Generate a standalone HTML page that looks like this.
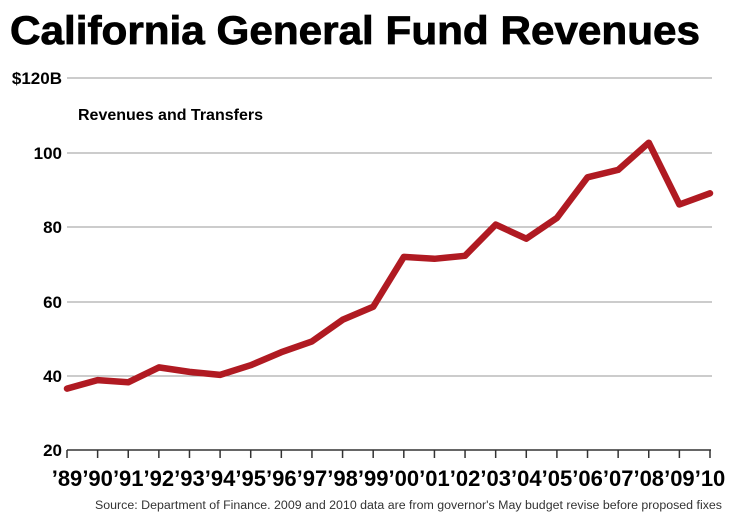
<!DOCTYPE html>
<html><head><style>body{margin:0;background:#fff}svg{display:block}</style></head><body>
<svg width="740" height="529" xmlns="http://www.w3.org/2000/svg" font-family="Liberation Sans, sans-serif">
<text x="10" y="44" font-size="40" font-weight="bold" textLength="690" lengthAdjust="spacingAndGlyphs" stroke="#000" stroke-width="0.8">California General Fund Revenues</text>
<g stroke="#999" stroke-width="1">
<line x1="67" y1="78" x2="712" y2="78"/>
<line x1="67" y1="153" x2="712" y2="153"/>
<line x1="67" y1="227" x2="712" y2="227"/>
<line x1="67" y1="302" x2="712" y2="302"/>
<line x1="67" y1="376" x2="712" y2="376"/>
</g>
<line x1="67" y1="450" x2="711" y2="450" stroke="#333" stroke-width="1.5"/>
<g stroke="#333" stroke-width="1.5" id="ticks"></g>
<g font-weight="bold" font-size="17" text-anchor="end">
<text x="62" y="84">$120B</text>
<text x="62" y="159">100</text>
<text x="62" y="233">80</text>
<text x="62" y="308">60</text>
<text x="62" y="382">40</text>
<text x="62" y="456">20</text>
</g>
<text x="78" y="120" font-size="16" font-weight="bold">Revenues and Transfers</text>
<g id="xl" font-weight="bold" font-size="22" text-anchor="middle"></g>
<polyline id="ln" fill="none" stroke="#b01a22" stroke-width="6.5" stroke-linejoin="round" stroke-linecap="round"/>
<text x="95" y="509" font-size="11.5" fill="#333" textLength="627" lengthAdjust="spacingAndGlyphs">Source: Department of Finance. 2009 and 2010 data are from governor's May budget revise before proposed fixes</text>
<script>
var v=[36.5,38.8,38.2,42.2,41,40.2,42.8,46.3,49.2,55,58.5,71.9,71.4,72.2,80.6,76.8,82.4,93.3,95.3,102.6,86,89];
var yrs=['89','90','91','92','93','94','95','96','97','98','99','00','01','02','03','04','05','06','07','08','09','10'];
var ns='http://www.w3.org/2000/svg',pts=[],t=document.getElementById('ticks'),xl=document.getElementById('xl');
for(var i=0;i<22;i++){var x=67+i*(643/21);pts.push(x.toFixed(1)+','+(450-(v[i]-20)*3.72).toFixed(1));
var l=document.createElementNS(ns,'line');l.setAttribute('x1',x);l.setAttribute('x2',x);l.setAttribute('y1',450);l.setAttribute('y2',458);t.appendChild(l);
var tx=document.createElementNS(ns,'text');tx.setAttribute('x',x);tx.setAttribute('y',486);tx.textContent='\u2019'+yrs[i];xl.appendChild(tx);}
document.getElementById('ln').setAttribute('points',pts.join(' '));
</script>
</svg>
</body></html>
